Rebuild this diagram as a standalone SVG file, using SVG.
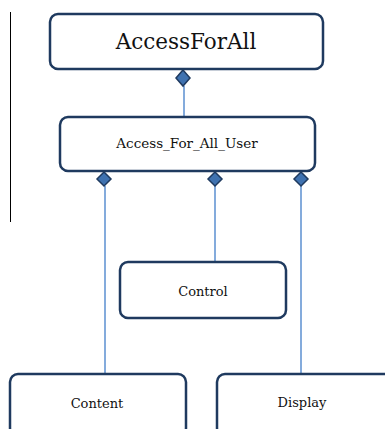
<svg xmlns="http://www.w3.org/2000/svg" width="385" height="429" viewBox="0 0 385 429">
<style>
.box{fill:#fff;stroke:#1f3a5f;stroke-width:2.5}
.t{font-family:'DejaVu Serif',serif;fill:#111;text-anchor:middle}
.c{stroke:#5b8fd0;stroke-width:1.5;fill:none}
.d{fill:#3f72b0;stroke:#1f3a5f;stroke-width:1.5}
</style>
<rect width="385" height="429" fill="#fff"/>
<line x1="10.5" y1="12" x2="10.5" y2="222" stroke="#000" stroke-width="1"/>
<g id="connectors">
<line class="c" x1="184" y1="86" x2="184" y2="117"/>
<line class="c" x1="105" y1="186" x2="105" y2="374"/>
<line class="c" x1="215" y1="186" x2="215" y2="262"/>
<line class="c" x1="301" y1="186" x2="301" y2="374"/>
<polygon class="d" points="183,70 190,78 183,86 176,78"/>
<polygon class="d" points="104,172 111,179 104,186 97,179"/>
<polygon class="d" points="215,172 222,179 215,186 208,179"/>
<polygon class="d" points="301,172 308,179 301,186 294,179"/>
</g>
<g id="AccessForAll">
<rect class="box" x="50" y="14" width="273" height="55" rx="8"/>
<text class="t" x="186" y="49" font-size="21.5">AccessForAll</text>
</g>
<g id="Access_For_All_User">
<rect class="box" x="60" y="117" width="255" height="54" rx="8"/>
<text class="t" x="187" y="148" font-size="13.5">Access_For_All_User</text>
</g>
<g id="Control">
<rect class="box" x="120" y="262" width="166" height="56" rx="8"/>
<text class="t" x="203" y="296" font-size="13">Control</text>
</g>
<g id="Content">
<rect class="box" x="10" y="374" width="176" height="62" rx="8"/>
<text class="t" x="97" y="408" font-size="13">Content</text>
</g>
<g id="Display">
<rect class="box" x="217" y="374" width="175" height="62" rx="8"/>
<text class="t" x="302" y="407" font-size="13">Display</text>
</g>
</svg>
